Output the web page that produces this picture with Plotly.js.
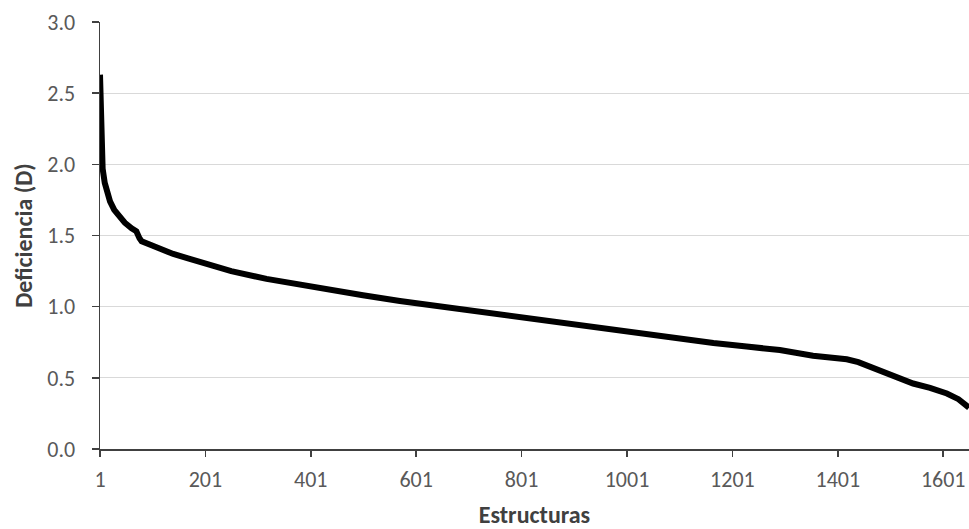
<!DOCTYPE html>
<html>
<head>
<meta charset="utf-8">
<script src="https://cdn.plot.ly/plotly-3.0.1.min.js"></script>
<style>html,body{margin:0;padding:0;background:#fff;}#chart{width:969px;height:529px;}</style>
</head>
<body>
<div id="chart"></div>
<script>
var estructuras = [1, 2, 3, 4, 6, 10, 15, 20, 28, 36, 48, 61, 70, 76, 80, 100, 118, 140, 168, 201, 250, 317, 401, 500, 570, 631, 697, 760, 823, 880, 944, 1000, 1039, 1102, 1165, 1228, 1291, 1354, 1418, 1440, 1460, 1481, 1512, 1544, 1576, 1608, 1630, 1650];
var deficiencia = [2.63, 2.40, 2.22, 2.05, 1.97, 1.87, 1.80, 1.74, 1.68, 1.64, 1.59, 1.55, 1.53, 1.48, 1.46, 1.43, 1.40, 1.37, 1.34, 1.30, 1.25, 1.195, 1.14, 1.08, 1.04, 1.01, 0.97, 0.94, 0.91, 0.88, 0.85, 0.825, 0.805, 0.775, 0.745, 0.72, 0.695, 0.655, 0.63, 0.61, 0.58, 0.545, 0.50, 0.46, 0.43, 0.39, 0.35, 0.29];
var xTickVals = [1, 201, 401, 601, 801, 1001, 1201, 1401, 1601];
var yTickVals = [0, 0.5, 1.0, 1.5, 2.0, 2.5, 3.0];
var yTickText = ['0.0', '0.5', '1.0', '1.5', '2.0', '2.5', '3.0'];

var font = 'Carlito, Calibri, Lato, sans-serif';
var trace = {
  x: estructuras,
  y: deficiencia,
  type: 'scatter',
  mode: 'lines',
  line: {color: '#000000', width: 6},
  hoverinfo: 'x+y'
};
var layout = {
  width: 969,
  height: 529,
  margin: {l: 100, r: 0, t: 22, b: 80},
  paper_bgcolor: '#ffffff',
  plot_bgcolor: '#ffffff',
  showlegend: false,
  font: {family: font, color: '#595959', size: 22},
  xaxis: {
    range: [1, 1650],
    tickvals: xTickVals,
    ticktext: xTickVals.map(String),
    ticks: 'outside',
    ticklen: 6,
    tickwidth: 1.5,
    tickcolor: '#404040',
    showline: true,
    linecolor: '#404040',
    linewidth: 1.5,
    showgrid: false,
    zeroline: false,
    ticklabelstandoff: 4,
    tickfont: {family: font, size: 22, color: '#595959'},
    title: {text: '<b>Estructuras</b>', font: {family: font, size: 24, color: '#404040'}, standoff: 14}
  },
  yaxis: {
    range: [0, 3],
    tickvals: yTickVals,
    ticktext: yTickText,
    ticks: 'outside',
    ticklen: 7,
    tickwidth: 1.5,
    tickcolor: '#404040',
    showline: true,
    linecolor: '#404040',
    linewidth: 1.5,
    showgrid: true,
    gridcolor: '#D9D9D9',
    gridwidth: 1,
    zeroline: false,
    ticklabelstandoff: 12,
    tickfont: {family: font, size: 22, color: '#595959'},
    title: {text: '<b>Deficiencia (D)</b>', font: {family: font, size: 24, color: '#404040'}, standoff: 8}
  }
};
Plotly.newPlot('chart', [trace], layout, {staticPlot: true, displayModeBar: false});
</script>
</body>
</html>
